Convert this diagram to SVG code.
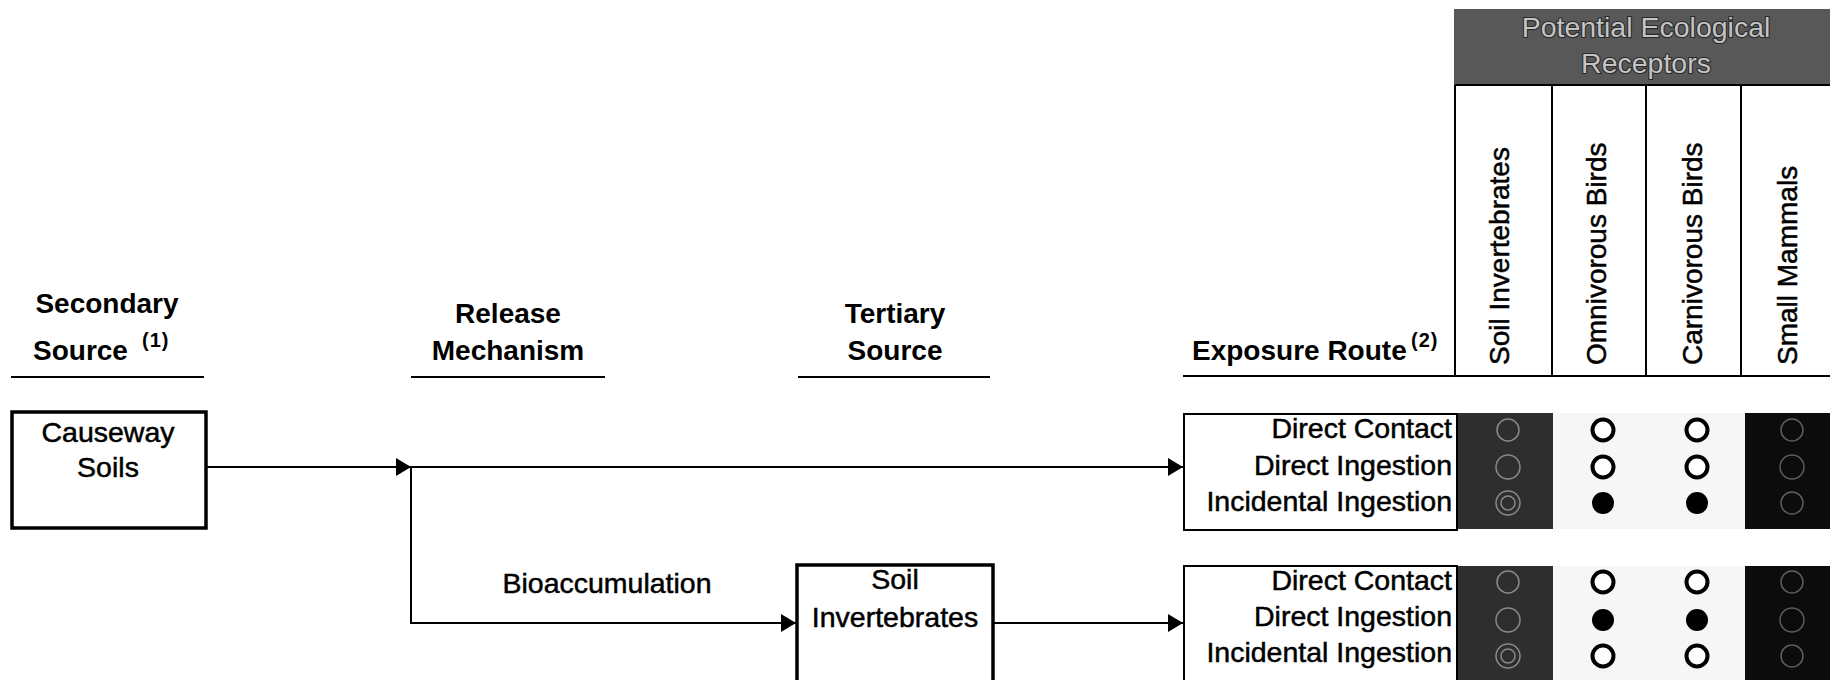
<svg xmlns="http://www.w3.org/2000/svg" width="1830" height="680" viewBox="0 0 1830 680">
  <defs>
    <style>
      .hdr { font-family: "Liberation Sans", Arial, sans-serif; font-weight: bold; font-size: 28px; fill: #000; }
      .sup { font-family: "Liberation Sans", Arial, sans-serif; font-weight: bold; font-size: 20px; fill: #000; letter-spacing: 1px; }
      .lbl { font-family: "Liberation Sans", Arial, sans-serif; font-size: 28.5px; fill: #000; stroke: #000; stroke-width: 0.5px; }
      .row { font-family: "Liberation Sans", Arial, sans-serif; font-size: 28.5px; fill: #000; stroke: #000; stroke-width: 0.5px; text-anchor: end; }
      .vert { font-family: "Liberation Sans", Arial, sans-serif; font-size: 28px; fill: #000; stroke: #000; stroke-width: 0.5px; }
      .emb { font-family: "Liberation Sans", Arial, sans-serif; font-size: 28.5px; fill: #c4c4c4; stroke: #2a2a2a; stroke-width: 2.2px; paint-order: stroke; text-anchor: middle; }
      .rule { stroke: #000; stroke-width: 2; fill: none; }
      .box { fill: #fff; stroke: #000; stroke-width: 3.5; }
      .rbox { fill: #fff; stroke: #000; stroke-width: 2; }
      .conn { stroke: #000; stroke-width: 2; fill: none; marker-end: url(#arrow); }
      .open { fill: #fff; stroke: #000; stroke-width: 4; }
      .full { fill: #000; }
      .ghost { fill: none; stroke: #8a8a8a; stroke-width: 1.5; }
      .ghost2 { fill: none; stroke: #5e5e5e; stroke-width: 1.5; }
      .c-dark { fill: #2e2e2e; }
      .c-light { fill: #f6f6f6; }
      .c-black { fill: #0c0c0c; }
    </style>
    <marker id="arrow" markerUnits="userSpaceOnUse" markerWidth="16" markerHeight="18" refX="15" refY="9" orient="auto">
      <path d="M0,0 L15,9 L0,18 Z" fill="#000"/>
    </marker>
  </defs>

  <rect width="1830" height="680" fill="#fff"/>

  <!-- column headings -->
  <g id="heading-secondary">
    <text class="hdr" x="107" y="313" text-anchor="middle">Secondary</text>
    <text class="hdr" x="33" y="360">Source</text>
    <text class="sup" x="142" y="347">(1)</text>
    <line class="rule" x1="11" y1="377" x2="204" y2="377"/>
  </g>
  <g id="heading-release">
    <text class="hdr" x="508" y="323" text-anchor="middle">Release</text>
    <text class="hdr" x="508" y="360" text-anchor="middle">Mechanism</text>
    <line class="rule" x1="411" y1="377" x2="605" y2="377"/>
  </g>
  <g id="heading-tertiary">
    <text class="hdr" x="895" y="323" text-anchor="middle">Tertiary</text>
    <text class="hdr" x="895" y="360" text-anchor="middle">Source</text>
    <line class="rule" x1="798" y1="377" x2="990" y2="377"/>
  </g>
  <g id="heading-exposure">
    <text class="hdr" x="1192" y="360">Exposure Route</text>
    <text class="sup" x="1411" y="347">(2)</text>
    <line class="rule" x1="1183" y1="376" x2="1830" y2="376"/>
  </g>

  <!-- receptor table header -->
  <g id="receptors-header">
    <rect x="1454" y="9" width="380" height="76" fill="#585858"/>
    <text class="emb" x="1646" y="37">Potential Ecological</text>
    <text class="emb" x="1646" y="73">Receptors</text>
    <line class="rule" x1="1455" y1="85" x2="1455" y2="376"/>
    <line class="rule" x1="1552" y1="85" x2="1552" y2="376"/>
    <line class="rule" x1="1646" y1="85" x2="1646" y2="376"/>
    <line class="rule" x1="1741" y1="85" x2="1741" y2="376"/>
    <line class="rule" x1="1455" y1="85" x2="1830" y2="85"/>
    <text class="vert" transform="translate(1509,365) rotate(-90)">Soil Invertebrates</text>
    <text class="vert" transform="translate(1606,365) rotate(-90)">Omnivorous Birds</text>
    <text class="vert" transform="translate(1702,365) rotate(-90)">Carnivorous Birds</text>
    <text class="vert" transform="translate(1797,365) rotate(-90)">Small Mammals</text>
  </g>

  <!-- source nodes -->
  <g id="node-causeway-soils">
    <rect class="box" x="12" y="412" width="194" height="116"/>
    <text class="lbl" x="108" y="442" text-anchor="middle">Causeway</text>
    <text class="lbl" x="108" y="477" text-anchor="middle">Soils</text>
  </g>
  <g id="node-soil-invertebrates">
    <rect class="box" x="797" y="565" width="196" height="120"/>
    <text class="lbl" x="895" y="589" text-anchor="middle">Soil</text>
    <text class="lbl" x="895" y="627" text-anchor="middle">Invertebrates</text>
  </g>

  <!-- exposure route blocks with receptor cells -->
  <g id="node-exposure-soils">
    <rect class="c-dark" x="1457" y="413" width="96" height="116"/>
    <rect class="c-light" x="1553" y="413" width="192" height="116"/>
    <rect class="c-black" x="1745" y="413" width="85" height="116"/>
    <rect class="rbox" x="1184" y="414" width="273" height="116"/>
    <text class="row" x="1452" y="438">Direct Contact</text>
    <text class="row" x="1452" y="475">Direct Ingestion</text>
    <text class="row" x="1452" y="511">Incidental Ingestion</text>
    <circle class="ghost" cx="1508" cy="430" r="11"/>
    <circle class="ghost" cx="1508" cy="467" r="12"/>
    <circle class="ghost" cx="1508" cy="503" r="12"/>
    <circle class="ghost" cx="1508" cy="503" r="7"/>
    <circle class="open" cx="1603" cy="430" r="10.5"/>
    <circle class="open" cx="1603" cy="467" r="10.5"/>
    <circle class="full" cx="1603" cy="503" r="11"/>
    <circle class="open" cx="1697" cy="430" r="10.5"/>
    <circle class="open" cx="1697" cy="467" r="10.5"/>
    <circle class="full" cx="1697" cy="503" r="11"/>
    <circle class="ghost2" cx="1792" cy="430" r="11"/>
    <circle class="ghost2" cx="1792" cy="467" r="12"/>
    <circle class="ghost2" cx="1792" cy="503" r="11"/>
  </g>
  <g id="node-exposure-invertebrates">
    <rect class="c-dark" x="1457" y="566" width="96" height="114"/>
    <rect class="c-light" x="1553" y="566" width="192" height="114"/>
    <rect class="c-black" x="1745" y="566" width="85" height="114"/>
    <rect class="rbox" x="1184" y="566" width="273" height="120"/>
    <text class="row" x="1452" y="590">Direct Contact</text>
    <text class="row" x="1452" y="626">Direct Ingestion</text>
    <text class="row" x="1452" y="662">Incidental Ingestion</text>
    <circle class="ghost" cx="1508" cy="582" r="11"/>
    <circle class="ghost" cx="1508" cy="620" r="12"/>
    <circle class="ghost" cx="1508" cy="656" r="12"/>
    <circle class="ghost" cx="1508" cy="656" r="7"/>
    <circle class="open" cx="1603" cy="582" r="10.5"/>
    <circle class="full" cx="1603" cy="620" r="11"/>
    <circle class="open" cx="1603" cy="656" r="10.5"/>
    <circle class="open" cx="1697" cy="582" r="10.5"/>
    <circle class="full" cx="1697" cy="620" r="11"/>
    <circle class="open" cx="1697" cy="656" r="10.5"/>
    <circle class="ghost2" cx="1792" cy="582" r="11"/>
    <circle class="ghost2" cx="1792" cy="620" r="12"/>
    <circle class="ghost2" cx="1792" cy="656" r="11"/>
  </g>

  <!-- connectors -->
  <g id="connectors">
    <line class="conn" x1="206" y1="467" x2="411" y2="467"/>
    <line class="conn" x1="411" y1="467" x2="1183" y2="467"/>
    <polyline class="conn" points="411,467 411,623 796,623"/>
    <line class="conn" x1="993" y1="623" x2="1183" y2="623"/>
    <text class="lbl" x="607" y="593" text-anchor="middle">Bioaccumulation</text>
  </g>
</svg>
